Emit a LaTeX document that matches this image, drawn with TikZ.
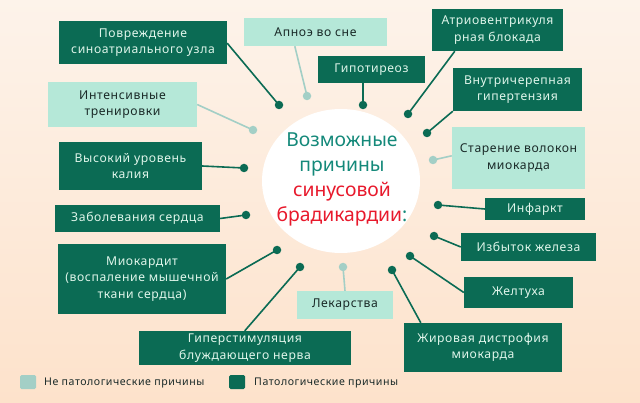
\documentclass[tikz,border=0pt]{standalone}
\usepackage{fontspec}
\setmainfont[LetterSpace=5]{Noto Sans}
\usetikzlibrary{calc}
\definecolor{dk}{HTML}{0B6B54}
\definecolor{lt}{HTML}{B5E8D8}
\definecolor{ltline}{HTML}{A3CFC6}
\definecolor{txtlt}{HTML}{DFF5EA}
\definecolor{txtdk}{HTML}{1A2A28}
\definecolor{teal}{HTML}{14897A}
\definecolor{redc}{HTML}{E8192C}
\definecolor{bgtop}{HTML}{FDF3EA}
\definecolor{bgbot}{HTML}{FDE2CB}
\tikzset{
  box/.style={rectangle,inner sep=0pt,align=center,font=\fontsize{12.2}{16.5}\selectfont},
  dkbox/.style={box,fill=dk,text=txtlt},
  ltbox/.style={box,fill=lt,text=txtdk},
  dkdot/.style={circle,fill=dk,inner sep=0pt,minimum size=8.5pt},
  ltdot/.style={circle,fill=ltline,inner sep=0pt,minimum size=8.5pt},
  dkline/.style={draw=dk,line width=1.6pt},
  ltline/.style={draw=ltline,line width=1.6pt},
  legend/.style={rectangle,rounded corners=1.5pt,inner sep=0pt,minimum width=16pt,minimum height=14pt},
  legtext/.style={inner sep=0pt,anchor=west,text=txtdk,font=\fontsize{10.6}{12}\selectfont},
}
\begin{document}
\begin{tikzpicture}[x=1pt,y=-1pt]
\useasboundingbox (0,0) rectangle (640,403);
\shade[top color=bgtop,bottom color=bgbot] (0,0) rectangle (640,403);
\fill[white] (341,181) ellipse [x radius=79,y radius=72];
\node[inner sep=0pt,align=center,font=\addfontfeature{LetterSpace=0}\fontsize{19.3}{25}\selectfont] (title) at (342,179)
  {\textcolor{teal}{Возможные}\\\textcolor{teal}{причины}\\\textcolor{redc}{синусовой}\\\textcolor{redc}{брадикардии}\textcolor{teal}{:}};
\node[dkbox,minimum width=168pt,minimum height=43pt] (povr) at (143,42.5) {Повреждение\\синоатриального узла};
\node[ltbox,minimum width=143pt,minimum height=28pt] (apno) at (315.5,32) {Апноэ во сне};
\node[dkbox,minimum width=107pt,minimum height=27pt] (gipo) at (371.5,69.5) {Гипотиреоз};
\node[dkbox,minimum width=131pt,minimum height=42pt] (atrio) at (497.5,30) {Атриовентрикуля\\рная блокада};
\node[dkbox,minimum width=129pt,minimum height=43pt] (vnut) at (517.5,89.5) {Внутричерепная\\гипертензия};
\node[ltbox,minimum width=133pt,minimum height=62pt] (star) at (518.5,158) {Старение волокон\\миокарда};
\node[dkbox,minimum width=100pt,minimum height=22pt] (infa) at (535,209) {Инфаркт};
\node[dkbox,minimum width=135pt,minimum height=28pt] (izby) at (528.5,247) {Избыток железа};
\node[dkbox,minimum width=109pt,minimum height=31pt] (zhel) at (518.5,292.5) {Желтуха};
\node[dkbox,minimum width=158pt,minimum height=49pt] (zhir) at (483,347.5) {Жировая дистрофия\\миокарда};
\node[ltbox,minimum width=96pt,minimum height=28pt] (leka) at (345,305) {Лекарства};
\node[dkbox,minimum width=212pt,minimum height=34pt] (gipe) at (245,348) {Гиперстимуляция\\блуждающего нерва};
\node[dkbox,minimum width=168pt,minimum height=70pt] (miok) at (142,279) {Миокардит\\(воспаление мышечной\\ткани сердца)};
\node[dkbox,minimum width=165pt,minimum height=27pt] (zabo) at (137.5,218.5) {Заболевания сердца};
\node[dkbox,minimum width=143pt,minimum height=48pt] (vyso) at (130.5,166) {Высокий уровень\\калия};
\node[ltbox,minimum width=149pt,minimum height=45pt] (inte) at (122.5,104.5) {Интенсивные\\тренировки};
\node[dkdot] (d1) at (279,105) {};
\node[ltdot] (d2) at (307,96) {};
\node[ltdot] (d3) at (253,130) {};
\node[dkdot] (d4) at (244,168) {};
\node[dkdot] (d5) at (363,105) {};
\node[dkdot] (d6) at (408,114) {};
\node[dkdot] (d7) at (427,133) {};
\node[ltdot] (d8) at (433,160) {};
\node[dkdot] (d9) at (438,205) {};
\node[dkdot] (d10) at (434,236) {};
\node[dkdot] (d11) at (410,256) {};
\node[dkdot] (d12) at (392,270) {};
\node[ltdot] (d13) at (343,267) {};
\node[dkdot] (d14) at (300,267) {};
\node[dkdot] (d15) at (277,250) {};
\node[dkdot] (d16) at (246,215) {};
\draw[dkline] ($(povr.south east)+(0,-21)$) -- (d1.center);
\draw[ltline] ($(apno.south west)+(51,0)$) -- (d2.center);
\draw[ltline] (inte.east) -- (d3.center);
\draw[dkline] (vyso.east) -- (d4.center);
\draw[dkline] ($(gipo.south)+(-8.5,0)$) -- (d5.center);
\draw[dkline] ($(atrio.south west)+(23,0)$) -- (d6.center);
\draw[dkline] (vnut.south west) -- (d7.center);
\draw[ltline] ($(star.north west)+(0,29)$) -- (d8.center);
\draw[dkline] (infa.west) -- (d9.center);
\draw[dkline] (izby.west) -- (d10.center);
\draw[dkline] (zhel.west) -- (d11.center);
\draw[dkline] ($(zhir.north west)+(17,0)$) -- (d12.center);
\draw[ltline] (leka.north) -- (d13.center);
\draw[dkline] ($(gipe.north west)+(106,0)$) -- (d14.center);
\draw[dkline] (miok.east) -- (d15.center);
\draw[dkline] (zabo.east) -- (d16.center);
\node[legend,fill=ltline] (lg1) at (28,382) {};
\node[legend,fill=dk] (lg2) at (237,382) {};
\node[legtext] (lt1) at (44,383) {Не патологические причины};
\node[legtext] (lt2) at (254,383) {Патологические причины};
\end{tikzpicture}
\end{document}
